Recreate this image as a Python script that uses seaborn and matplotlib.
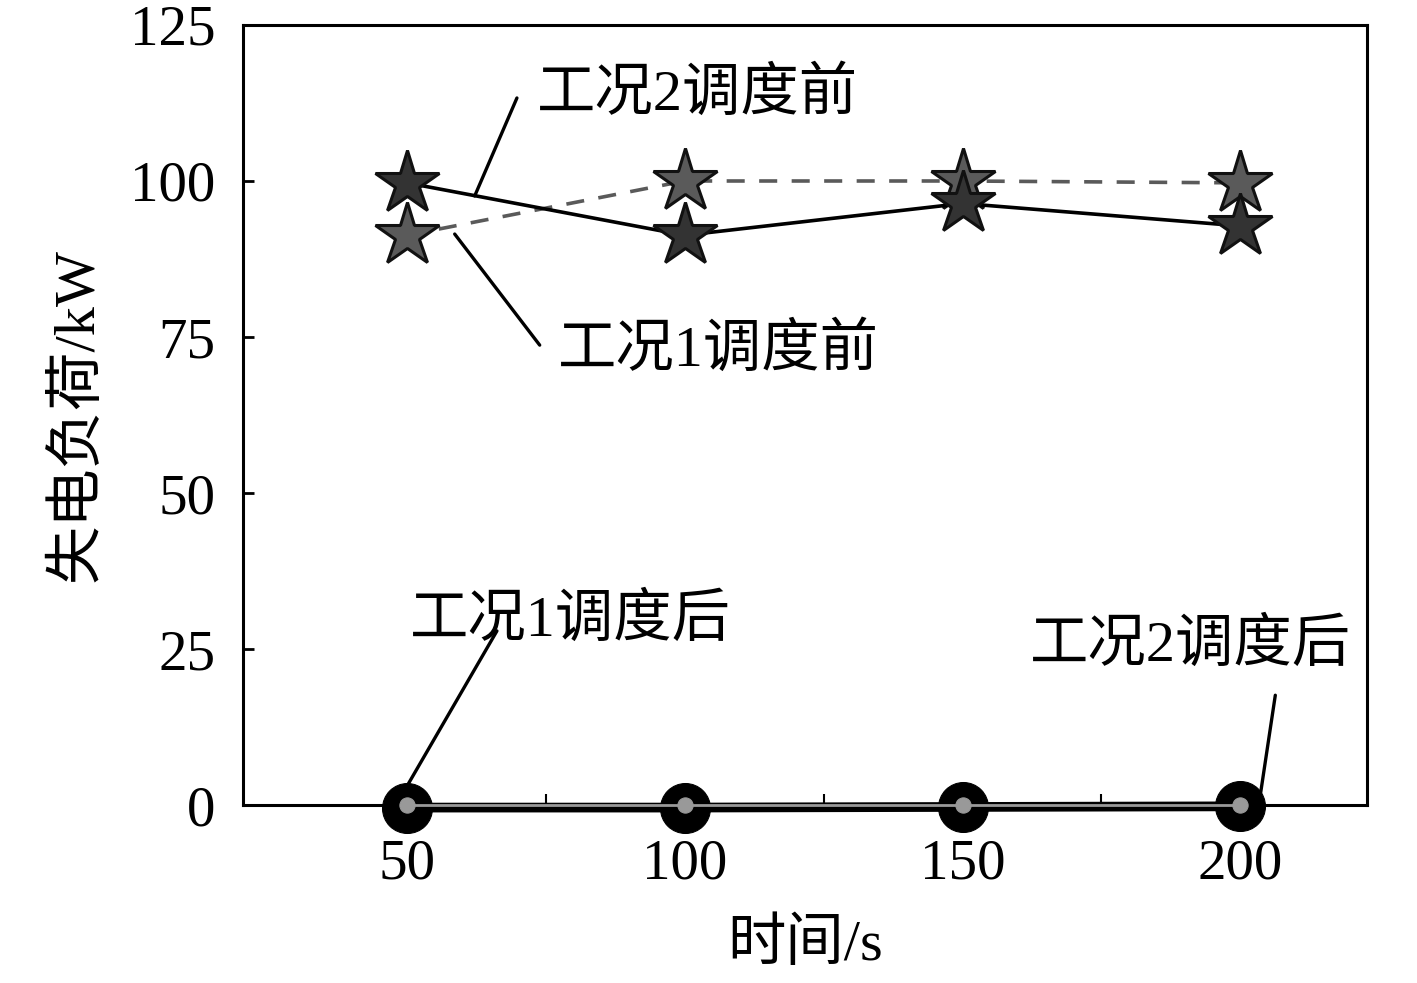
import matplotlib
matplotlib.use("Agg")
import matplotlib.pyplot as plt
import seaborn as sns

# 数据
times = [50, 100, 150, 200]
before_case2 = [99.7, 91.3, 96.4, 92.8]   # 工况2调度前
before_case1 = [91.3, 100.0, 100.0, 99.7]  # 工况1调度前
after_case1 = [0.0, 0.0, 0.0, 0.0]         # 工况1调度后
after_case2 = [-0.4, -0.4, -0.3, -0.2]     # 工况2调度后
y_ticks = [0, 25, 50, 75, 100, 125]

sns.set_style("white")
plt.rcParams['font.family'] = ['Liberation Serif', 'Noto Sans CJK SC']
plt.rcParams['text.color'] = 'black'
plt.rcParams['axes.labelcolor'] = 'black'
plt.rcParams['xtick.color'] = 'black'
plt.rcParams['ytick.color'] = 'black'

fig = plt.figure(figsize=(14.17, 9.83), dpi=100)
ax = fig.add_axes([0.1715, 0.181, 0.7932, 0.7936])

# 调度后（底部两条线）
sns.lineplot(x=times, y=after_case2, ax=ax, color='black', lw=7,
             marker='o', markersize=36, markerfacecolor='black',
             markeredgecolor='black', zorder=3, clip_on=False)
sns.lineplot(x=times, y=after_case1, ax=ax, color='#999999', lw=2,
             marker='o', markersize=11, markerfacecolor='#999999',
             markeredgecolor='#999999', zorder=4, clip_on=False)

# 调度前
sns.lineplot(x=times, y=before_case1, ax=ax, color='#5a5a5a', lw=2.6,
             linestyle=(0, (5, 4)), marker='*', markersize=48,
             markerfacecolor='#5a5a5a', markeredgecolor='#111111',
             markeredgewidth=2.2, zorder=5)
sns.lineplot(x=times, y=before_case2, ax=ax, color='black', lw=2.6,
             marker='*', markersize=48, markerfacecolor='#333333',
             markeredgecolor='#111111', markeredgewidth=2.2, zorder=6)

ax.set_xlim(20.5, 222.8)
ax.set_ylim(0, 125)

# 坐标轴样式
for s in ax.spines.values():
    s.set_linewidth(2.2)
    s.set_color('black')
ax.set_xticks(times)
ax.set_xticks([75, 125, 175], minor=True)
ax.set_yticks(y_ticks)
ax.tick_params(axis='x', which='major', length=0, pad=24, labelsize=41)
ax.tick_params(axis='x', which='minor', direction='in', length=8, width=1.5,
               bottom=True)
ax.tick_params(axis='y', direction='in', length=8, width=2, pad=20,
               labelsize=41, left=True)

ax.set_xlabel('时间/s', fontsize=42, labelpad=20)
ax.set_ylabel('失电负荷/kW', fontsize=42, labelpad=18)

# 标注
line_kw = dict(arrowstyle='-', color='black', lw=2.4, shrinkA=0, shrinkB=0)
txt_kw = dict(fontsize=42, va='center', ha='left')

ax.annotate('', xy=(62.2, 97.6), xytext=(69.8, 113.3), arrowprops=line_kw)
ax.text(73.4, 113.8, '工况2调度前', **txt_kw)

ax.annotate('', xy=(58.6, 91.5), xytext=(73.9, 73.7), arrowprops=line_kw)
ax.text(77.2, 72.9, '工况1调度前', **txt_kw)

ax.annotate('', xy=(49.6, 2.4), xytext=(66.2, 27.9), arrowprops=line_kw)
ax.text(50.5, 29.6, '工况1调度后', **txt_kw)

ax.annotate('', xy=(203.6, 1.6), xytext=(206.3, 17.6), arrowprops=line_kw)
ax.text(162.2, 25.6, '工况2调度后', **txt_kw)

fig.savefig('out.png', dpi=100)
